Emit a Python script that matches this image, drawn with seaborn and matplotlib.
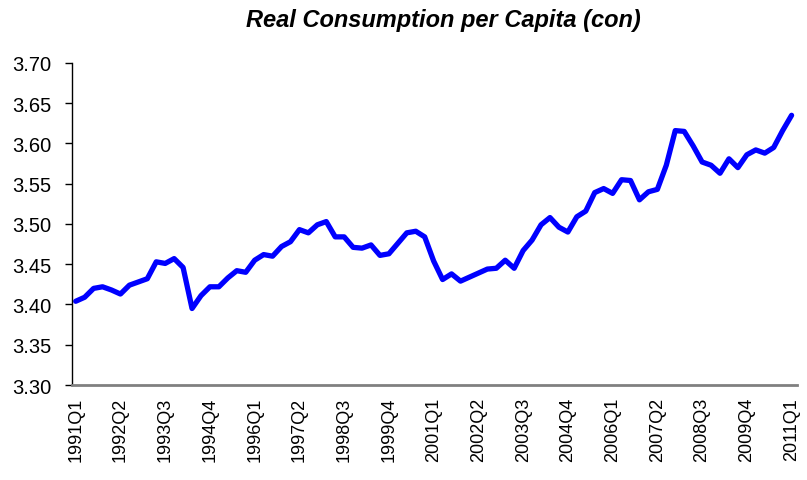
import seaborn as sns
import matplotlib.pyplot as plt
import pandas as pd

# quarters 1991Q1 .. 2011Q1
years = list(range(1991, 2012))
quarters = [f"{y}Q{q}" for y in years for q in range(1, 5)][:81]

con = [3.404, 3.409, 3.420, 3.422, 3.418, 3.413, 3.424, 3.428, 3.432, 3.453,
       3.451, 3.457, 3.446, 3.395, 3.411, 3.422, 3.422, 3.433, 3.442, 3.440,
       3.455, 3.462, 3.460, 3.472, 3.478, 3.493, 3.489, 3.499, 3.503, 3.484,
       3.484, 3.471, 3.470, 3.474, 3.461, 3.463, 3.476, 3.489, 3.491, 3.484,
       3.454, 3.431, 3.438, 3.429, 3.434, 3.439, 3.444, 3.445, 3.455, 3.445,
       3.467, 3.480, 3.499, 3.508, 3.496, 3.490, 3.509, 3.516, 3.539, 3.544,
       3.538, 3.555, 3.554, 3.530, 3.540, 3.543, 3.573, 3.616, 3.615, 3.597,
       3.577, 3.573, 3.563, 3.581, 3.570, 3.586, 3.592, 3.588, 3.595, 3.616,
       3.635]

df = pd.DataFrame({"i": range(len(con)), "quarter": quarters, "con": con})

sns.set_style("white")
plt.rcParams['font.family'] = ['Liberation Sans', 'DejaVu Sans']
plt.rcParams['text.color'] = 'black'
plt.rcParams['xtick.color'] = 'black'
plt.rcParams['ytick.color'] = 'black'

fig = plt.figure(figsize=(8.07, 4.81), dpi=100)
ax = fig.add_axes([0.0896, 0.1975, 0.8974, 0.6695])
sns.lineplot(data=df, x="i", y="con", color="#0000FF", linewidth=3.8, ax=ax)

ax.set_xlim(-0.38, 80.55)
ax.set_ylim(3.30, 3.70)
ax.set_yticks([3.30 + 0.05 * k for k in range(9)])
ax.set_yticklabels([f"{3.30 + 0.05 * k:.2f}" for k in range(9)], fontsize=14.5)
ticks = list(range(0, 81, 5))
ax.set_xticks(ticks)
ax.set_xticklabels([quarters[t] for t in ticks], rotation=90, fontsize=13)
ax.set_xlabel("")
ax.set_ylabel("")

for s in ["top", "right"]:
    ax.spines[s].set_visible(False)
ax.spines["left"].set_color("black")
ax.spines["left"].set_linewidth(1.0)
ax.spines["bottom"].set_color("#808080")
ax.spines["bottom"].set_linewidth(2.0)
ax.tick_params(axis="y", left=True, length=5, width=1, color="black", pad=10)
ax.tick_params(axis="x", bottom=False, pad=5)

fig.text(0.549, 0.958, "Real Consumption per Capita (con)", ha="center", va="center",
         fontsize=17, fontweight="bold", fontstyle="italic")

fig.savefig("out.png", dpi=100)
